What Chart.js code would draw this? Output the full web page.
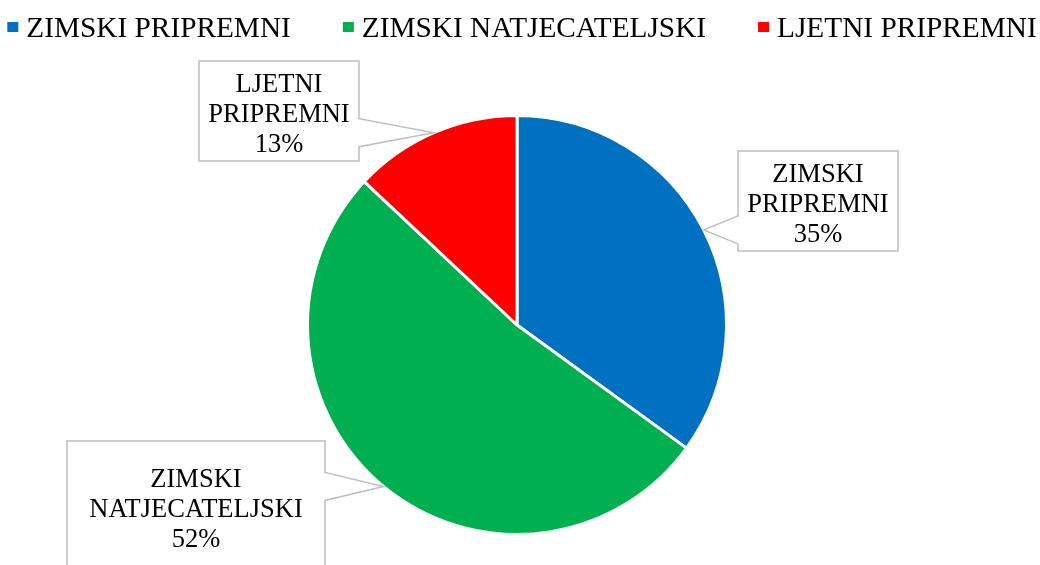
<!DOCTYPE html>
<html>
<head>
<meta charset="utf-8">
<script src="https://cdn.jsdelivr.net/npm/chart.js@4.4.1/dist/chart.umd.min.js"></script>
<style>
  html, body { margin: 0; padding: 0; background: #fff; }
  #wrap { width: 1040px; height: 565px; }
</style>
</head>
<body>
<div id="wrap"><canvas id="myChart" width="1040" height="565"></canvas></div>
<script>
var labels = ['ZIMSKI PRIPREMNI', 'ZIMSKI NATJECATELJSKI', 'LJETNI PRIPREMNI'];
var shares = [35, 52, 13];
var colors = ['#0070C0', '#00B050', '#FF0000'];

var serif = "'Liberation Serif', 'Times New Roman', serif";

// callout boxes (left, top, right, bottom) per slice
var boxes = [
  [738, 151, 898, 251],
  [67, 441, 325, 572],
  [199, 61, 359, 161]
];

var legendPlugin = {
  id: 'topLegend',
  afterDraw: function(chart) {
    var ctx = chart.ctx;
    ctx.save();
    ctx.font = '29.3px ' + serif;
    ctx.textBaseline = 'alphabetic';
    var gapBox = 19, gapItem = 52, total = 0;
    var widths = chart.data.labels.map(function(l) { return ctx.measureText(l).width; });
    widths.forEach(function(w, i) { total += gapBox + w + (i ? gapItem : 0); });
    var x = 522 - total / 2;
    chart.data.labels.forEach(function(l, i) {
      ctx.fillStyle = chart.data.datasets[0].backgroundColor[i];
      ctx.fillRect(x, 22, 11, 10);
      ctx.fillStyle = '#000';
      ctx.fillText(l, x + gapBox, 37);
      x += gapBox + widths[i] + gapItem;
    });
    ctx.restore();
  }
};

var calloutPlugin = {
  id: 'callouts',
  afterDraw: function(chart) {
    var ctx = chart.ctx;
    var meta = chart.getDatasetMeta(0);
    var data = chart.data.datasets[0].data;
    ctx.save();
    meta.data.forEach(function(arc, i) {
      var mid = (arc.startAngle + arc.endAngle) / 2;
      var tx = arc.x + Math.cos(mid) * arc.outerRadius;
      var ty = arc.y + Math.sin(mid) * arc.outerRadius;
      var b = boxes[i];
      var half = 14;
      var cy = Math.min(Math.max(ty, b[1] + half + 4), b[3] - half - 4);
      ctx.beginPath();
      if (tx > b[2]) {
        ctx.moveTo(b[0], b[1]);
        ctx.lineTo(b[2], b[1]);
        ctx.lineTo(b[2], cy - half);
        ctx.lineTo(tx, ty);
        ctx.lineTo(b[2], cy + half);
        ctx.lineTo(b[2], b[3]);
        ctx.lineTo(b[0], b[3]);
      } else {
        ctx.moveTo(b[0], b[1]);
        ctx.lineTo(b[2], b[1]);
        ctx.lineTo(b[2], b[3]);
        ctx.lineTo(b[0], b[3]);
        ctx.lineTo(b[0], cy + half);
        ctx.lineTo(tx, ty);
        ctx.lineTo(b[0], cy - half);
      }
      ctx.closePath();
      ctx.fillStyle = '#fff';
      ctx.fill();
      ctx.strokeStyle = '#BFBFBF';
      ctx.lineWidth = 1.5;
      ctx.stroke();

      var words = chart.data.labels[i].split(' ');
      var lines = [words[0], words.slice(1).join(' '), data[i] + '%'];
      var cx = (b[0] + b[2]) / 2;
      var base = (b[3] - b[1] > 100) ? b[1] + 76 : (b[1] + b[3]) / 2 + 10.5;
      ctx.font = '26.5px ' + serif;
      ctx.fillStyle = '#000';
      ctx.textAlign = 'center';
      ctx.textBaseline = 'alphabetic';
      lines.forEach(function(t, k) {
        ctx.fillText(t, cx, base + (k - 1) * 30);
      });
    });
    ctx.restore();
  }
};

var ctx = document.getElementById('myChart').getContext('2d');
var myChart = new Chart(ctx, {
  type: 'pie',
  data: {
    labels: labels,
    datasets: [{
      data: shares,
      backgroundColor: colors,
      borderColor: '#ffffff',
      borderWidth: 3
    }]
  },
  options: {
    responsive: false,
    animation: false,
    layout: {
      padding: { top: 114, bottom: 29, left: 0, right: 6 }
    },
    plugins: {
      legend: { display: false },
      tooltip: { enabled: false }
    }
  },
  plugins: [legendPlugin, calloutPlugin]
});
</script>
</body>
</html>
